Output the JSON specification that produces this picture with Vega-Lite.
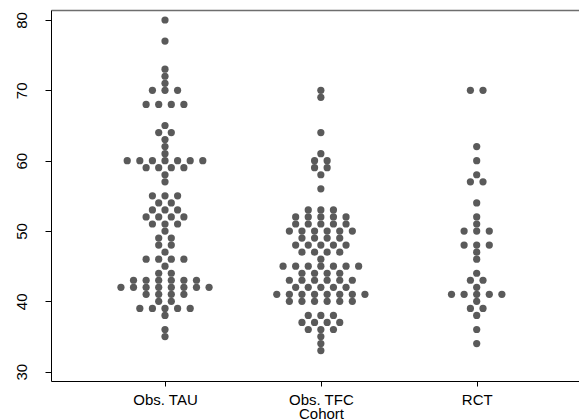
{
  "$schema": "https://vega.github.io/schema/vega-lite/v6.json",
  "width": 528,
  "height": 371,
  "autosize": {"type": "none"},
  "padding": {"left": 51, "top": 10, "right": 0, "bottom": 38},
  "config": {"view": {"stroke": null}, "font": "Liberation Sans"},
  "data": {"values": [
    {"cohort":"Obs. TAU","score":80},{"cohort":"Obs. TAU","score":77},{"cohort":"Obs. TAU","score":73},{"cohort":"Obs. TAU","score":72},{"cohort":"Obs. TAU","score":71},
    {"cohort":"Obs. TAU","score":70},{"cohort":"Obs. TAU","score":70},{"cohort":"Obs. TAU","score":70},
    {"cohort":"Obs. TAU","score":68},{"cohort":"Obs. TAU","score":68},{"cohort":"Obs. TAU","score":68},{"cohort":"Obs. TAU","score":68},
    {"cohort":"Obs. TAU","score":65},{"cohort":"Obs. TAU","score":64},{"cohort":"Obs. TAU","score":64},{"cohort":"Obs. TAU","score":63},{"cohort":"Obs. TAU","score":62},{"cohort":"Obs. TAU","score":61},
    {"cohort":"Obs. TAU","score":60},{"cohort":"Obs. TAU","score":60},{"cohort":"Obs. TAU","score":60},{"cohort":"Obs. TAU","score":60},{"cohort":"Obs. TAU","score":60},{"cohort":"Obs. TAU","score":60},{"cohort":"Obs. TAU","score":60},
    {"cohort":"Obs. TAU","score":59},{"cohort":"Obs. TAU","score":59},{"cohort":"Obs. TAU","score":59},{"cohort":"Obs. TAU","score":59},
    {"cohort":"Obs. TAU","score":58},{"cohort":"Obs. TAU","score":57},
    {"cohort":"Obs. TAU","score":55},{"cohort":"Obs. TAU","score":55},{"cohort":"Obs. TAU","score":55},
    {"cohort":"Obs. TAU","score":54},{"cohort":"Obs. TAU","score":54},
    {"cohort":"Obs. TAU","score":53},{"cohort":"Obs. TAU","score":53},{"cohort":"Obs. TAU","score":53},
    {"cohort":"Obs. TAU","score":52},{"cohort":"Obs. TAU","score":52},{"cohort":"Obs. TAU","score":52},{"cohort":"Obs. TAU","score":52},
    {"cohort":"Obs. TAU","score":51},{"cohort":"Obs. TAU","score":51},{"cohort":"Obs. TAU","score":51},
    {"cohort":"Obs. TAU","score":50},
    {"cohort":"Obs. TAU","score":49},{"cohort":"Obs. TAU","score":49},
    {"cohort":"Obs. TAU","score":48},{"cohort":"Obs. TAU","score":48},
    {"cohort":"Obs. TAU","score":47},
    {"cohort":"Obs. TAU","score":46},{"cohort":"Obs. TAU","score":46},{"cohort":"Obs. TAU","score":46},{"cohort":"Obs. TAU","score":46},
    {"cohort":"Obs. TAU","score":45},
    {"cohort":"Obs. TAU","score":44},{"cohort":"Obs. TAU","score":44},
    {"cohort":"Obs. TAU","score":43},{"cohort":"Obs. TAU","score":43},{"cohort":"Obs. TAU","score":43},{"cohort":"Obs. TAU","score":43},{"cohort":"Obs. TAU","score":43},{"cohort":"Obs. TAU","score":43},
    {"cohort":"Obs. TAU","score":42},{"cohort":"Obs. TAU","score":42},{"cohort":"Obs. TAU","score":42},{"cohort":"Obs. TAU","score":42},{"cohort":"Obs. TAU","score":42},{"cohort":"Obs. TAU","score":42},{"cohort":"Obs. TAU","score":42},{"cohort":"Obs. TAU","score":42},
    {"cohort":"Obs. TAU","score":41},{"cohort":"Obs. TAU","score":41},{"cohort":"Obs. TAU","score":41},{"cohort":"Obs. TAU","score":41},
    {"cohort":"Obs. TAU","score":40},{"cohort":"Obs. TAU","score":40},
    {"cohort":"Obs. TAU","score":39},{"cohort":"Obs. TAU","score":39},{"cohort":"Obs. TAU","score":39},{"cohort":"Obs. TAU","score":39},{"cohort":"Obs. TAU","score":39},
    {"cohort":"Obs. TAU","score":38},{"cohort":"Obs. TAU","score":36},{"cohort":"Obs. TAU","score":35},

    {"cohort":"Obs. TFC","score":70},{"cohort":"Obs. TFC","score":69},{"cohort":"Obs. TFC","score":64},{"cohort":"Obs. TFC","score":61},
    {"cohort":"Obs. TFC","score":60},{"cohort":"Obs. TFC","score":60},
    {"cohort":"Obs. TFC","score":59},{"cohort":"Obs. TFC","score":59},
    {"cohort":"Obs. TFC","score":58},{"cohort":"Obs. TFC","score":56},
    {"cohort":"Obs. TFC","score":53},{"cohort":"Obs. TFC","score":53},{"cohort":"Obs. TFC","score":53},
    {"cohort":"Obs. TFC","score":52},{"cohort":"Obs. TFC","score":52},{"cohort":"Obs. TFC","score":52},{"cohort":"Obs. TFC","score":52},{"cohort":"Obs. TFC","score":52},
    {"cohort":"Obs. TFC","score":51},{"cohort":"Obs. TFC","score":51},{"cohort":"Obs. TFC","score":51},{"cohort":"Obs. TFC","score":51},{"cohort":"Obs. TFC","score":51},
    {"cohort":"Obs. TFC","score":50},{"cohort":"Obs. TFC","score":50},{"cohort":"Obs. TFC","score":50},{"cohort":"Obs. TFC","score":50},{"cohort":"Obs. TFC","score":50},{"cohort":"Obs. TFC","score":50},
    {"cohort":"Obs. TFC","score":49},{"cohort":"Obs. TFC","score":49},{"cohort":"Obs. TFC","score":49},{"cohort":"Obs. TFC","score":49},
    {"cohort":"Obs. TFC","score":48},{"cohort":"Obs. TFC","score":48},{"cohort":"Obs. TFC","score":48},{"cohort":"Obs. TFC","score":48},{"cohort":"Obs. TFC","score":48},
    {"cohort":"Obs. TFC","score":47},{"cohort":"Obs. TFC","score":47},{"cohort":"Obs. TFC","score":47},{"cohort":"Obs. TFC","score":47},
    {"cohort":"Obs. TFC","score":46},
    {"cohort":"Obs. TFC","score":45},{"cohort":"Obs. TFC","score":45},{"cohort":"Obs. TFC","score":45},{"cohort":"Obs. TFC","score":45},{"cohort":"Obs. TFC","score":45},{"cohort":"Obs. TFC","score":45},{"cohort":"Obs. TFC","score":45},
    {"cohort":"Obs. TFC","score":44},{"cohort":"Obs. TFC","score":44},{"cohort":"Obs. TFC","score":44},{"cohort":"Obs. TFC","score":44},
    {"cohort":"Obs. TFC","score":43},{"cohort":"Obs. TFC","score":43},{"cohort":"Obs. TFC","score":43},{"cohort":"Obs. TFC","score":43},{"cohort":"Obs. TFC","score":43},{"cohort":"Obs. TFC","score":43},
    {"cohort":"Obs. TFC","score":42},{"cohort":"Obs. TFC","score":42},{"cohort":"Obs. TFC","score":42},{"cohort":"Obs. TFC","score":42},{"cohort":"Obs. TFC","score":42},
    {"cohort":"Obs. TFC","score":41},{"cohort":"Obs. TFC","score":41},{"cohort":"Obs. TFC","score":41},{"cohort":"Obs. TFC","score":41},{"cohort":"Obs. TFC","score":41},{"cohort":"Obs. TFC","score":41},{"cohort":"Obs. TFC","score":41},{"cohort":"Obs. TFC","score":41},
    {"cohort":"Obs. TFC","score":40},{"cohort":"Obs. TFC","score":40},{"cohort":"Obs. TFC","score":40},{"cohort":"Obs. TFC","score":40},{"cohort":"Obs. TFC","score":40},{"cohort":"Obs. TFC","score":40},
    {"cohort":"Obs. TFC","score":38},{"cohort":"Obs. TFC","score":38},{"cohort":"Obs. TFC","score":38},
    {"cohort":"Obs. TFC","score":37},{"cohort":"Obs. TFC","score":37},{"cohort":"Obs. TFC","score":37},{"cohort":"Obs. TFC","score":37},
    {"cohort":"Obs. TFC","score":36},{"cohort":"Obs. TFC","score":36},{"cohort":"Obs. TFC","score":36},
    {"cohort":"Obs. TFC","score":35},{"cohort":"Obs. TFC","score":34},{"cohort":"Obs. TFC","score":33},

    {"cohort":"RCT","score":70},{"cohort":"RCT","score":70},
    {"cohort":"RCT","score":62},{"cohort":"RCT","score":60},{"cohort":"RCT","score":58},
    {"cohort":"RCT","score":57},{"cohort":"RCT","score":57},
    {"cohort":"RCT","score":54},{"cohort":"RCT","score":52},{"cohort":"RCT","score":51},
    {"cohort":"RCT","score":50},{"cohort":"RCT","score":50},{"cohort":"RCT","score":50},
    {"cohort":"RCT","score":48},{"cohort":"RCT","score":48},{"cohort":"RCT","score":48},
    {"cohort":"RCT","score":47},{"cohort":"RCT","score":46},{"cohort":"RCT","score":44},
    {"cohort":"RCT","score":43},{"cohort":"RCT","score":43},
    {"cohort":"RCT","score":42},
    {"cohort":"RCT","score":41},{"cohort":"RCT","score":41},{"cohort":"RCT","score":41},{"cohort":"RCT","score":41},{"cohort":"RCT","score":41},
    {"cohort":"RCT","score":40},
    {"cohort":"RCT","score":39},{"cohort":"RCT","score":39},
    {"cohort":"RCT","score":38},{"cohort":"RCT","score":36},{"cohort":"RCT","score":34}
  ]},
  "transform": [
    {"window": [{"op": "row_number", "as": "rank"}], "groupby": ["cohort", "score"]},
    {"joinaggregate": [{"op": "count", "as": "n"}], "groupby": ["cohort", "score"]},
    {"calculate": "indexof(['Obs. TAU', 'Obs. TFC', 'RCT'], datum.cohort) + 1 + (2 * datum.rank - datum.n - 1) * 0.0404", "as": "pos"}
  ],
  "layer": [
    {
      "mark": {"type": "circle", "size": 52, "color": "#5a5a5a", "opacity": 1},
      "encoding": {
        "x": {
          "field": "pos", "type": "quantitative",
          "scale": {"domain": [0.2685, 3.6564], "nice": false, "zero": false},
          "axis": {
            "orient": "bottom", "values": [1, 2, 3],
            "labelExpr": "['Obs. TAU', 'Obs. TFC', 'RCT'][datum.value - 1]",
            "title": "Cohort", "titleX": 270, "titleY": 37.5, "titleBaseline": "alphabetic",
            "titleAlign": "center", "titleAnchor": null, "titleFontSize": 15, "titleFontWeight": "normal", "titleColor": "#000000",
            "labelFontSize": 15, "labelColor": "#000000", "labelAngle": 0, "labelBaseline": "alphabetic",
            "labelPadding": 18.5, "labelFlush": false, "labelOverlap": false, "tickSize": 5, "tickColor": "#000000", "domainColor": "#000000", "grid": false
          }
        },
        "y": {
          "field": "score", "type": "quantitative",
          "scale": {"domain": [28.68, 81.42], "nice": false, "zero": false},
          "axis": {
            "orient": "left", "title": null, "values": [30, 40, 50, 60, 70, 80], "labelAngle": -90, "labelAlign": "center",
            "labelBaseline": "alphabetic", "labelPadding": 18.3, "labelFontSize": 15, "labelColor": "#000000",
            "labelFlush": false, "labelOverlap": false,
            "tickSize": 6, "tickColor": "#000000", "domainColor": "#000000", "grid": false
          }
        }
      }
    },
    {
      "mark": {"type": "circle", "opacity": 0},
      "encoding": {
        "x": {
          "field": "pos", "type": "quantitative",
          "axis": {"orient": "top", "title": null, "labels": false, "ticks": false, "domainColor": "#6e6e6e", "domainWidth": 1.5, "grid": false}
        }
      }
    }
  ],
  "resolve": {"axis": {"x": "independent"}}
}
